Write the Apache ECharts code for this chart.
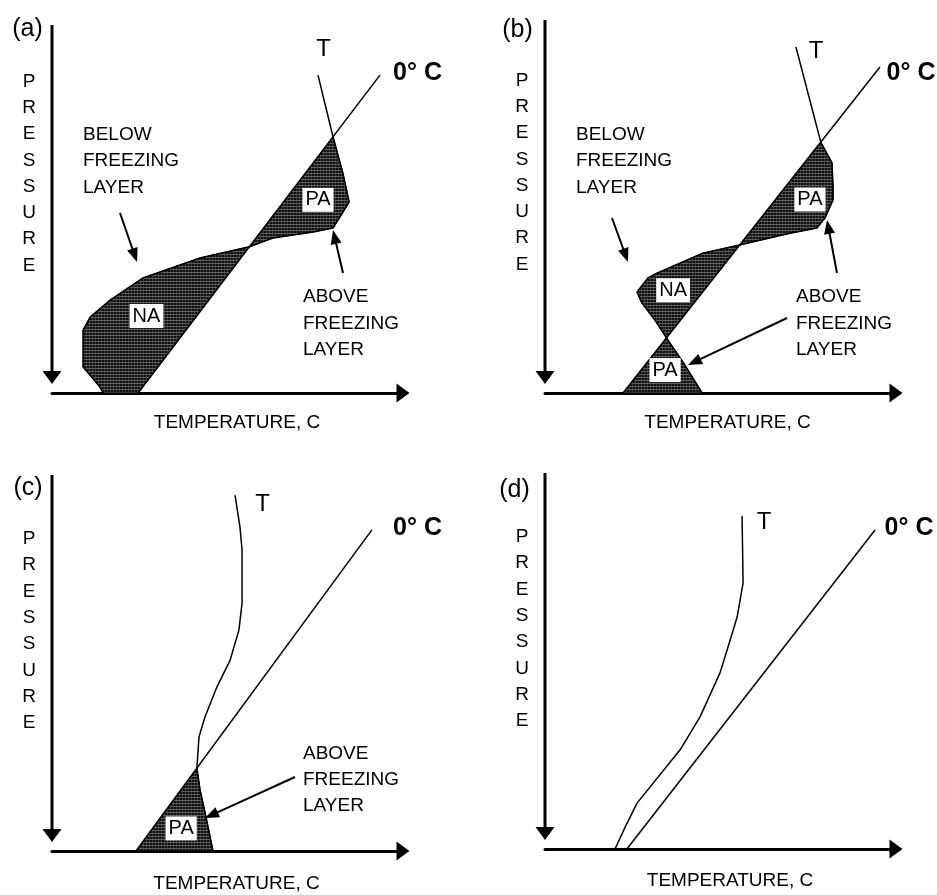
<!DOCTYPE html>
<html><head><meta charset="utf-8">
<script src="https://cdn.jsdelivr.net/npm/echarts@6/dist/echarts.min.js"></script>
<style>html,body{margin:0;padding:0;background:#fff}#c{width:937px;height:895px}</style>
</head><body><div id="c"></div>
<script>
// Units: temperature 0-100 (left to right), pressure 0-100 (top to bottom)
// Panel (a)
const zeroA = [[93.7,14.1],[24.6,100]];
const tempA = [[76.0,14.1],[80.3,30.8],[83.1,40.5],[84.9,48.4],[80.3,55.4],[74.6,56.5],[63.1,58.1],[56.4,60.5],[42.3,63.5],[26.0,68.9],[16.6,74.9],[10.9,79.5],[8.9,83.0],[8.9,93.0],[13.7,98.4],[14.6,100]];
const layersA = [['PA',30.8,60.5],['NA',60.5,100]];
const boxLabelsA = [[76.0,47.8,'PA'],[27.0,79.2,'NA']];
// Panel (b)
const zeroB = [[95.7,11.9],[22.3,100]];
const tempB = [[71.7,6.5],[78.8,32.2],[82.0,37.8],[82.3,44.3],[82.3,47.8],[80.0,52.7],[77.7,55.4],[70.0,56.8],[57.7,59.5],[55.6,60.0],[45.1,62.2],[32.0,67.6],[29.4,68.9],[26.3,72.7],[27.7,75.7],[31.4,80.3],[34.7,85.1],[39.4,91.6],[44.9,100]];
const layersB = [['PA',32.2,60.0],['NA',60.0,85.1],['PA',85.1,100]];
const boxLabelsB = [[75.7,47.7,'PA'],[36.6,72.2,'NA'],[34.3,93.8,'PA']];
// Panel (c)
const zeroC = [[91.4,13.2],[24.0,100]];
const tempC = [[52.3,3.8],[53.7,12.4],[54.3,18.6],[54.3,33.0],[53.4,40.3],[50.9,48.4],[47.1,55.7],[43.7,63.8],[42.0,69.2],[41.4,77.6],[42.3,83.5],[44.0,90.8],[46.0,100]];
const layersC = [['PA',77.6,100]];
const boxLabelsC = [[36.9,93.9,'PA']];
// Panel (d)
const zeroD = [[94.3,13.8],[23.4,100]];
const tempD = [[56.3,10.0],[56.6,28.1],[54.9,37.3],[52.3,45.4],[50.0,52.4],[44.3,64.3],[38.6,73.2],[26.3,87.6],[22.9,94.1],[20.0,100]];
const layersD = [];
const boxLabelsD = [];

const panelNames = ['(a)','(b)','(c)','(d)'];
const tempName = 'T';
const zeroName = '0° C';
const xAxisTitle = 'TEMPERATURE, C';
const yAxisTitle = 'PRESSURE';
const belowText = 'BELOW\nFREEZING\nLAYER';
const aboveText = 'ABOVE\nFREEZING\nLAYER';

// ---------- layout ----------
const FONT = '"Liberation Sans", Arial, Helvetica, sans-serif';
const panels = [
  {zero: zeroA, temp: tempA, layers: layersA, boxes: boxLabelsA, left: 52, top: 23, axisTop: 25, arrowTip: 384},
  {zero: zeroB, temp: tempB, layers: layersB, boxes: boxLabelsB, left: 545, top: 23, axisTop: 20, arrowTip: 384},
  {zero: zeroC, temp: tempC, layers: layersC, boxes: boxLabelsC, left: 52, top: 481, axisTop: 475, arrowTip: 842},
  {zero: zeroD, temp: tempD, layers: layersD, boxes: boxLabelsD, left: 545, top: 479, axisTop: 473, arrowTip: 840}
];
const GW = 350, GH = 370;

const tile = document.createElement('canvas');
tile.width = 3; tile.height = 3;
const tg = tile.getContext('2d');
tg.fillStyle = '#101010'; tg.fillRect(0,0,3,3);
tg.fillStyle = '#5e5e5e'; tg.fillRect(0,2,3,1);
tg.fillStyle = '#3a3a3a'; tg.fillRect(2,0,1,2);
const pattern = {image: tile, repeat: 'repeat'};

function zeroX(Z, y) {
  for (let i = 0; i < Z.length - 1; i++) {
    const a = Z[i], b = Z[i+1];
    if ((y >= a[1] && y <= b[1]) || (y <= a[1] && y >= b[1])) {
      const t = (y - a[1]) / (b[1] - a[1]);
      return a[0] + t * (b[0] - a[0]);
    }
  }
  return Z[Z.length-1][0];
}
function layerPolygon(T, Z, top, bottom) {
  const pts = T.filter(p => p[1] >= top - 1e-6 && p[1] <= bottom + 1e-6).map(p => p.slice());
  pts.push([zeroX(Z, bottom), bottom]);
  pts.push([zeroX(Z, top), top]);
  return pts;
}

const grid = [], xAxis = [], yAxis = [], series = [];
panels.forEach((p, i) => {
  grid.push({left: p.left, top: p.top, width: GW, height: GH, outerBoundsMode: 'none', containLabel: false});
  xAxis.push({type: 'value', gridIndex: i, min: 0, max: 100, position: 'bottom',
    axisLine: {show: true, onZero: false, symbol: ['none', 'triangle'], symbolSize: [19, 13], symbolOffset: [0, 1], lineStyle: {color: '#000', width: 3}},
    axisTick: {show: false}, axisLabel: {show: false}, splitLine: {show: false}});
  yAxis.push({type: 'value', gridIndex: i, min: 0, max: 100, inverse: true,
    axisLine: {show: false}, axisTick: {show: false}, axisLabel: {show: false}, splitLine: {show: false}});
  const polys = p.layers.map(l => layerPolygon(p.temp, p.zero, l[1], l[2]));
  if (polys.length) {
    series.push({type: 'custom', xAxisIndex: i, yAxisIndex: i, z: 1, silent: true,
      data: p.layers.map(l => [0, l[1]]),
      renderItem: (params, api) => ({
        type: 'polygon',
        shape: {points: polys[params.dataIndex].map(pt => api.coord(pt))},
        style: {fill: pattern, stroke: '#000', lineWidth: 1}
      })
    });
  }
  series.push({type: 'line', name: zeroName, xAxisIndex: i, yAxisIndex: i, data: p.zero, z: 3,
    showSymbol: false, symbol: 'none', silent: true, lineStyle: {color: '#000', width: 1.5}});
  series.push({type: 'line', name: tempName, xAxisIndex: i, yAxisIndex: i, data: p.temp, z: 3,
    showSymbol: false, symbol: 'none', silent: true, lineStyle: {color: '#000', width: 1.5}});
  if (p.boxes.length) {
    series.push({type: 'scatter', xAxisIndex: i, yAxisIndex: i, data: p.boxes, symbolSize: 0, z: 5, silent: true,
      itemStyle: {opacity: 1, color: '#000'},
      label: {show: true, position: 'inside', formatter: d => d.value[2], color: '#000', opacity: 1,
        fontFamily: FONT, fontSize: 20, lineHeight: 20, backgroundColor: '#fff', padding: [2, 3, 2, 3]}});
  }
});

// ---------- annotations (pixel layout) ----------
const g = [];
function txt(x, y, text, size, opts) {
  opts = opts || {};
  g.push({type: 'text', x: x, y: y, z: 10, silent: true, style: {text: text, fill: '#000',
    font: (opts.bold ? 'bold ' : '') + size + 'px ' + FONT,
    align: opts.align || 'center', verticalAlign: 'middle', lineHeight: opts.lh || size}});
}
function arrow(x1, y1, x2, y2, len, half, w) {
  const dx = x2 - x1, dy = y2 - y1, L = Math.hypot(dx, dy);
  const ux = dx / L, uy = dy / L;
  const bx = x2 - ux * len, by = y2 - uy * len;
  g.push({type: 'line', z: 10, silent: true, shape: {x1: x1, y1: y1, x2: bx + ux * 1, y2: by + uy * 1}, style: {stroke: '#000', lineWidth: w}});
  g.push({type: 'polygon', z: 10, silent: true, shape: {points: [[x2, y2], [bx - uy * half, by + ux * half], [bx + uy * half, by - ux * half]]}, style: {fill: '#000'}});
}
// y axes (pressure increases downward)
panels.forEach(p => arrow(p.left, p.axisTop, p.left, p.arrowTip, 13, 9.5, 3));

const panelPos = [[27.5, 29], [517.5, 30], [28, 488], [514.5, 490]];
panelPos.forEach((q, i) => txt(q[0], q[1], panelNames[i], 25));
const pressPos = [[29, 173.5], [522, 172.5], [29, 631], [522, 629]];
pressPos.forEach(q => txt(q[0], q[1], yAxisTitle.split('').join('\n'), 19, {lh: 26.3}));
const tempTitlePos = [[237, 423], [727.5, 423], [236.5, 884], [730, 881]];
tempTitlePos.forEach(q => txt(q[0], q[1], xAxisTitle, 19));
const tPos = [[323.5, 49], [816, 51], [262.5, 504], [764, 522.5]];
tPos.forEach(q => txt(q[0], q[1], tempName, 24));
const zPos = [[417.5, 73], [911, 73], [417.5, 528], [909, 528]];
zPos.forEach(q => txt(q[0], q[1], zeroName, 25, {bold: true}));

txt(83, 161, belowText, 19, {align: 'left', lh: 26.5});
txt(576, 161, belowText, 19, {align: 'left', lh: 26.5});
txt(303, 323.5, aboveText, 19, {align: 'left', lh: 26.5});
txt(796, 323.5, aboveText, 19, {align: 'left', lh: 26.5});
txt(303, 780, aboveText, 19, {align: 'left', lh: 26});

arrow(120, 213, 137, 262, 14, 5.5, 2);
arrow(343, 273, 333, 230, 14, 5.5, 2);
arrow(612, 218, 628, 262, 14, 5.5, 2);
arrow(837, 273, 827, 220, 14, 5.5, 2);
arrow(787, 318, 688, 365, 14, 5.5, 2);
arrow(295, 777, 205, 818, 14, 5.5, 2);

const chart = echarts.init(document.getElementById('c'), null, {renderer: 'canvas'});
chart.setOption({
  backgroundColor: '#fff',
  animation: false,
  grid: grid, xAxis: xAxis, yAxis: yAxis, series: series, graphic: g
});
</script></body></html>
